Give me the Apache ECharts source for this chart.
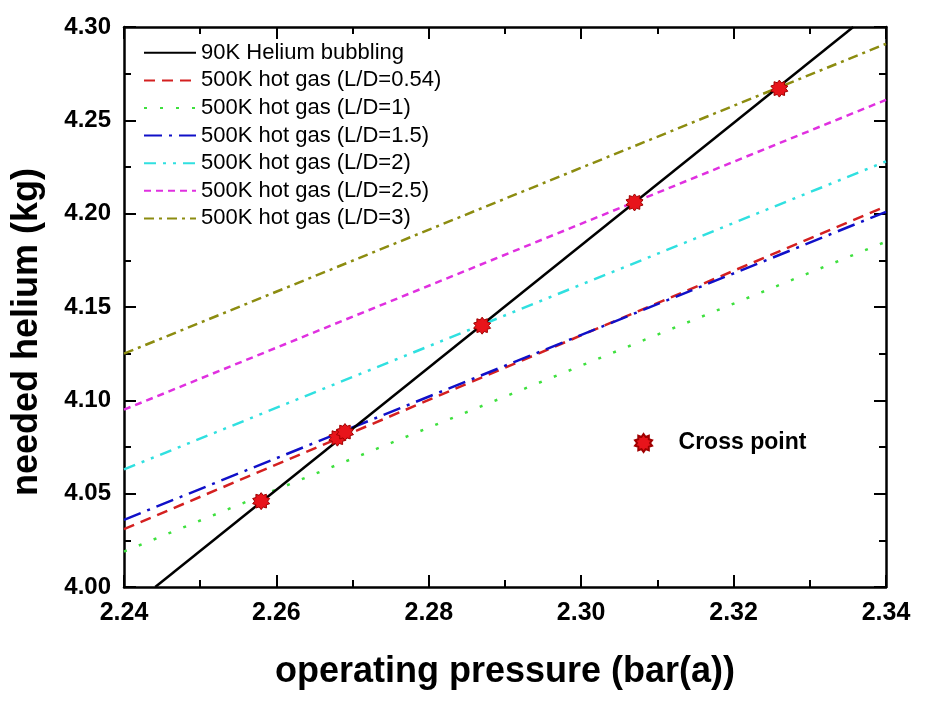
<!DOCTYPE html>
<html>
<head>
<meta charset="utf-8">
<script src="https://cdn.jsdelivr.net/npm/echarts@6/dist/echarts.min.js"></script>
<style>
html,body{margin:0;padding:0;background:#fff;}
#chart{width:926px;height:701px;}
</style>
</head>
<body>
<div id="chart"></div>
<script>
// ---- data ----
const pressureEnds = [2.24, 2.34];               // x at both ends of the hot-gas lines
const bubblingP = [2.2441, 2.3357];              // 90K helium bubbling line
const bubblingV = [4.00, 4.30];
const hotLD054 = [4.031, 4.204];
const hotLD1   = [4.019, 4.185];
const hotLD15  = [4.036, 4.201];
const hotLD2   = [4.063, 4.228];
const hotLD25  = [4.095, 4.261];
const hotLD3   = [4.125, 4.291];
const crossP = [2.258, 2.268, 2.269, 2.287, 2.307, 2.326];
const crossV = [4.046, 4.080, 4.083, 4.140, 4.206, 4.267];
const xTicks = [2.24, 2.26, 2.28, 2.30, 2.32, 2.34];
const yTicks = [4.00, 4.05, 4.10, 4.15, 4.20, 4.25, 4.30];

const seriesNames = ['90K Helium bubbling','500K hot gas (L/D=0.54)','500K hot gas (L/D=1)',
  '500K hot gas (L/D=1.5)','500K hot gas (L/D=2)','500K hot gas (L/D=2.5)','500K hot gas (L/D=3)'];

function pairs(xs, ys){ return xs.map((x,i)=>[x, ys[i]]); }

function burst(n, ri){
  let s='';
  for(let i=0;i<2*n;i++){
    const r = i%2 ? ri : 1;
    const a = Math.PI*i/n - Math.PI/2;
    s += (i?'L':'M') + (50+50*r*Math.cos(a)).toFixed(2) + ' ' + (50+50*r*Math.sin(a)).toFixed(2);
  }
  return 'path://' + s + 'Z';
}
const starSym = burst(10, 0.72);

const FONT = '"Liberation Sans", Arial, sans-serif';

function lineSeries(name, data, color, type, width){
  return {
    name, type:'line', data, symbol:'none', showSymbol:false,
    lineStyle:{color, width: width||2.5, type},
    itemStyle:{color},
    emphasis:{disabled:true}, animation:false, z:3
  };
}

const chart = echarts.init(document.getElementById('chart'), null, {renderer:'canvas'});

const axisCommon = {
  type:'value',
  axisLine:{show:true, onZero:false, lineStyle:{color:'#000', width:2.5}},
  axisTick:{show:true, inside:true, length:12, lineStyle:{color:'#000', width:2}},
  minorTick:{show:true, splitNumber:2, length:7, lineStyle:{color:'#000', width:2}},
  splitLine:{show:false}, minorSplitLine:{show:false}
};

chart.setOption({
  animation:false,
  backgroundColor:'#fff',
  grid:{left:124, right:40, top:27, bottom:114, containLabel:false},
  xAxis:[
    Object.assign({}, axisCommon, {
      position:'bottom', min:xTicks[0], max:xTicks[xTicks.length-1], interval:0.02,
      axisLabel:{show:true, margin:14, color:'#000', fontFamily:FONT, fontWeight:'bold', fontSize:25,
        formatter:v=>v.toFixed(2)},
      name:'operating pressure (bar(a))', nameLocation:'middle', nameGap:67,
      nameTextStyle:{color:'#000', fontFamily:FONT, fontWeight:'bold', fontSize:36}
    }),
    Object.assign({}, axisCommon, {
      position:'top', min:xTicks[0], max:xTicks[xTicks.length-1], interval:0.02,
      axisLabel:{show:false}
    })
  ],
  yAxis:[
    Object.assign({}, axisCommon, {
      position:'left', min:yTicks[0], max:yTicks[yTicks.length-1], interval:0.05,
      axisLabel:{show:true, margin:13, color:'#000', fontFamily:FONT, fontWeight:'bold', fontSize:24,
        formatter:v=>v.toFixed(2)}
    }),
    Object.assign({}, axisCommon, {
      position:'right', min:yTicks[0], max:yTicks[yTicks.length-1], interval:0.05,
      axisLabel:{show:false}
    })
  ],
  legend:[
    {
      data:seriesNames, orient:'vertical', left:138, top:34,
      itemWidth:52, itemHeight:14, itemGap:0, selectedMode:false,
      itemStyle:{opacity:0},
      textStyle:{color:'#000', fontFamily:FONT, fontSize:22, lineHeight:27.6}
    },
    {
      data:[{name:'Cross point', icon:starSym}], left:629, top:424,
      itemWidth:60, itemHeight:18, selectedMode:false,
      textStyle:{color:'#000', fontFamily:FONT, fontWeight:'bold', fontSize:23, lineHeight:28}
    }
  ],
  graphic:[{
    type:'text', x:27, y:332, rotation:Math.PI/2, silent:true,
    style:{text:'needed helium (kg)', fill:'#000', font:'bold 36px '+FONT, align:'center', verticalAlign:'middle'}
  }],
  series:[
    lineSeries(seriesNames[1], pairs(pressureEnds, hotLD054), '#d42020', [11,7]),
    lineSeries(seriesNames[2], pairs(pressureEnds, hotLD1), '#3ee03e', [3,13]),
    lineSeries(seriesNames[3], pairs(pressureEnds, hotLD15), '#1010c8', [18,7,3,7]),
    lineSeries(seriesNames[4], pairs(pressureEnds, hotLD2), '#30e0e0', [12,7,3,7,3,7]),
    lineSeries(seriesNames[5], pairs(pressureEnds, hotLD25), '#e030e0', [7,5]),
    lineSeries(seriesNames[6], pairs(pressureEnds, hotLD3), '#8c8c10', [10,5,3,5]),
    Object.assign(lineSeries(seriesNames[0], pairs(bubblingP, bubblingV), '#000', 'solid', 2.5), {z:4}),
    {
      name:'Cross point', type:'scatter', data:pairs(crossP, crossV),
      symbol:starSym, symbolSize:17,
      itemStyle:{color:'#e8141b', borderColor:'#a00000', borderWidth:1, opacity:1},
      emphasis:{disabled:true}, z:10
    }
  ]
});
</script>
</body>
</html>
